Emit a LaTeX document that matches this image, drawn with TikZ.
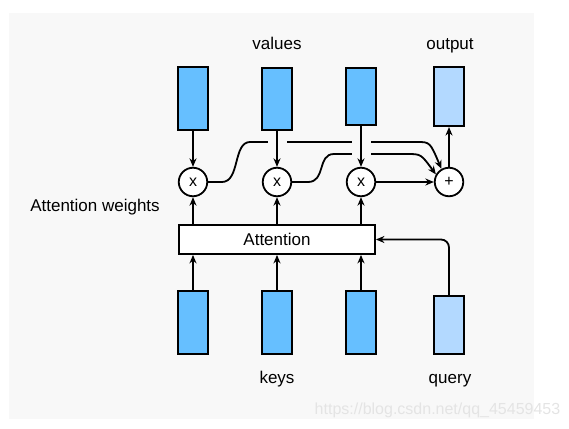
\documentclass[tikz,border=0pt]{standalone}
\usepackage{fontspec}
\setmainfont{Liberation Sans}
\usetikzlibrary{arrows.meta}

\definecolor{bgcol}{RGB}{248,248,248}
\definecolor{vecblue}{RGB}{102,191,255}
\definecolor{vecpale}{RGB}{179,217,255}
\definecolor{markgray}{RGB}{228,228,228}

\tikzset{
  vec/.style={draw, line width=2.1pt, minimum width=30pt, inner sep=0pt},
  opnode/.style={circle, draw, line width=1.8pt, fill=white, minimum size=28.5pt,
    inner sep=0pt, font=\fontsize{16}{18}\selectfont},
  lbl/.style={font=\fontsize{17}{20}\selectfont},
  arr/.style={line width=1.8pt, -{Stealth[length=8.5pt,width=7pt]}},
  cut/.style={preaction={draw=bgcol, line width=19pt, -, shorten <=3pt, shorten >=4pt}},
}

\begin{document}
\begin{tikzpicture}[x=1pt,y=-1pt]
      % 画布
      \useasboundingbox (0,0) rectangle (569,428);
      \fill[bgcol] (9,13) rectangle (534,419);

      % 列位置
      \def\ca{193}
      \def\cb{277}
      \def\cc{361}
      \def\cd{449}

      % values
      \node[vec, fill=vecblue, minimum height=63pt] (v1) at (\ca, 98.5) {};
      \node[vec, fill=vecblue, minimum height=62pt] (v2) at (\cb, 99) {};
      \node[vec, fill=vecblue, minimum height=57pt] (v3) at (\cc, 96.5) {};
      \node[vec, fill=vecpale, minimum height=59pt] (out) at (\cd, 96.5) {};

      % keys, query
      \node[vec, fill=vecblue, minimum height=63pt] (k1) at (\ca, 322.5) {};
      \node[vec, fill=vecblue, minimum height=63pt] (k2) at (\cb, 322.5) {};
      \node[vec, fill=vecblue, minimum height=63pt] (k3) at (\cc, 322.5) {};
      \node[vec, fill=vecpale, minimum height=58pt] (q) at (\cd, 325) {};

      % 乘法与加法
      \node[opnode] (m1) at (\ca, 182) {x};
      \node[opnode] (m2) at (\cb, 182) {x};
      \node[opnode] (m3) at (\cc, 182) {x};
      \node[opnode] (plus) at (\cd, 182) {+};

      % Attention
      \node[draw, line width=1.8pt, fill=white, minimum width=196pt, minimum height=29pt,
        inner sep=0pt, lbl] (att) at (277, 239.5) {Attention};

      % 标签
      \node[lbl, anchor=base] (lvalues) at (\cb, 49) {values};
      \node[lbl, anchor=base] (loutput) at (450, 49) {output};
      \node[lbl, anchor=base] (lkeys) at (\cb, 383) {keys};
      \node[lbl, anchor=base] (lquery) at (450, 383) {query};
      \node[lbl] (lweights) at (95, 207) {Attention weights};
      \node[text=markgray, font=\fontsize{16}{18}\selectfont] (mark) at (437.5, 410)
        {https://blog.csdn.net/qq\_45459453};

      % 加权求和
      \draw[arr] (m1.east) -- (222,182) .. controls (240,182) and (233,142) .. (250,142)
        -- (417,142) .. controls (430,142) .. (plus.120);
      \draw[arr] (m2.east) -- (308,182) .. controls (326,182) and (317,154) .. (334,154)
        -- (407,154) .. controls (421,154) .. (plus.150);
      \draw[arr] (m3.east) -- (plus.west);

      % values -> x
      \draw[arr] (v1.south) -- (m1.north);
      \draw[arr, cut] (v2.south) -- (m2.north);
      \draw[arr, cut] (v3.south) -- (m3.north);
      \draw[arr] (plus.north) -- (out.south);

      % 注意力权重
      \draw[arr] (m1 |- att.north) -- (m1.south);
      \draw[arr] (m2 |- att.north) -- (m2.south);
      \draw[arr] (m3 |- att.north) -- (m3.south);

      % keys, query -> Attention
      \draw[arr] (k1.north) -- (k1 |- att.south);
      \draw[arr] (k2.north) -- (k2 |- att.south);
      \draw[arr] (k3.north) -- (k3 |- att.south);
      \draw[arr, rounded corners=8pt] (q.north) |- (att.east);
    \end{tikzpicture}
\end{document}
